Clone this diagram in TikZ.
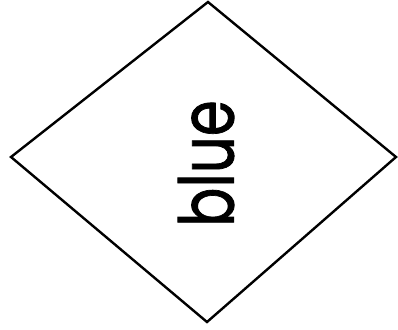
\documentclass[tikz,border=0pt]{standalone}
\usepackage{fontspec}
\setmainfont{Poppins}
\newfontfamily\labelfont{Poppins}[FakeBold=1.2]

\begin{document}
\begin{tikzpicture}[
    x=1pt, y=-1pt,
    edge/.style={draw=black, line width=2.4pt, line join=miter},
    label/.style={rotate=90, inner sep=0pt, font=\labelfont\fontsize{58}{58}\selectfont}
]
    \useasboundingbox (0,0) rectangle (398,329);
    % corners of the diamond
    \coordinate (top) at (208,2);
    \coordinate (left) at (11,157);
    \coordinate (bottom) at (207,322);
    \coordinate (right) at (396,157);
    \draw [edge] (top) -- (left) -- (bottom) -- (right) -- cycle;
    \node [label] (t) at (206,163.5) {\scalebox{1}[1.3]{blue}};
\end{tikzpicture}
\end{document}
